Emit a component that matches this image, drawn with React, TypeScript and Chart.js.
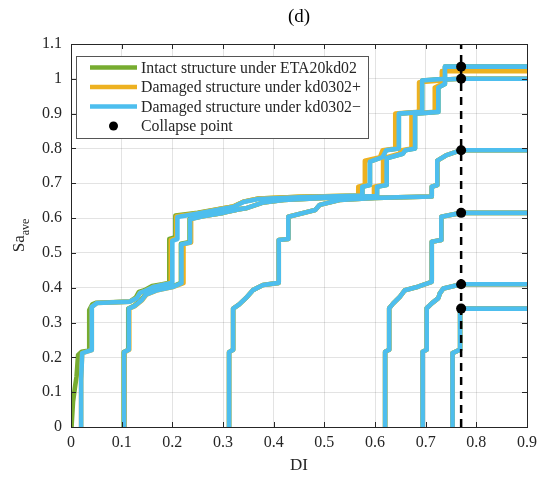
import React, { useEffect, useRef } from "react";
import { Chart, registerables } from "chart.js";

Chart.register(...registerables);

type Pt = [number, number];

// ---------- labels / ticks ----------
const chartTitle = "(d)";
const xAxisTitle = "DI";
const yAxisMain = "Sa";
const yAxisSub = "ave";
const seriesNames = [
  "Intact structure under ETA20kd02",
  "Damaged structure under kd0302+",
  "Damaged structure under kd0302\u2212",
  "Collapse point",
];
const seriesColors = ["#77AC30", "#EDB120", "#4DBEEE"];
const xTicks = [0, 0.1, 0.2, 0.3, 0.4, 0.5, 0.6, 0.7, 0.8, 0.9];
const yTicks = [0, 0.1, 0.2, 0.3, 0.4, 0.5, 0.6, 0.7, 0.8, 0.9, 1.0, 1.1];

// ---------- collapse points ----------
const collapseLimitDI = 0.77;
const collapseDI = [0.77, 0.77, 0.77, 0.77, 0.77, 0.77];
const collapseSa = [1.035, 1.0, 0.795, 0.615, 0.41, 0.34];

// ---------- IDA curves (DI, Sa) ----------
const intactRec1: Pt[] = [
  [0.001, 0], [0.004, 0.073], [0.008, 0.116], [0.011, 0.145], [0.014, 0.207], [0.021, 0.216],
  [0.036, 0.22], [0.036, 0.336], [0.042, 0.352], [0.05, 0.357], [0.116, 0.36], [0.128, 0.372],
  [0.134, 0.388], [0.145, 0.393], [0.16, 0.405], [0.18, 0.41], [0.194, 0.414], [0.194, 0.54],
  [0.206, 0.545], [0.206, 0.607], [0.25, 0.615], [0.3, 0.628], [0.32, 0.633], [0.34, 0.647],
  [0.37, 0.656], [0.45, 0.661], [0.575, 0.665], [0.575, 0.69], [0.59, 0.695], [0.59, 0.762],
  [0.615, 0.775], [0.622, 0.795], [0.647, 0.8], [0.647, 0.9], [0.693, 0.905], [0.693, 0.995],
  [0.738, 1.0], [0.738, 1.035], [0.9, 1.035],
];
const intactRec2: Pt[] = [
  [0.104, 0], [0.104, 0.215], [0.113, 0.222], [0.113, 0.34], [0.125, 0.349], [0.139, 0.366],
  [0.147, 0.381], [0.169, 0.394], [0.2, 0.403], [0.217, 0.414], [0.217, 0.526], [0.234, 0.531],
  [0.234, 0.598], [0.26, 0.605], [0.3, 0.615], [0.33, 0.625], [0.345, 0.628], [0.38, 0.645],
  [0.42, 0.652], [0.5, 0.658], [0.604, 0.663], [0.604, 0.69], [0.623, 0.695], [0.623, 0.772],
  [0.655, 0.785], [0.66, 0.795], [0.679, 0.8], [0.679, 0.9], [0.725, 0.905], [0.725, 0.975],
  [0.738, 0.985], [0.738, 0.998], [0.77, 1.0], [0.9, 1.0],
];
const plusRec1: Pt[] = [
  [0.02, 0], [0.02, 0.135], [0.022, 0.212], [0.041, 0.221], [0.041, 0.345], [0.051, 0.356],
  [0.116, 0.36], [0.13, 0.37], [0.136, 0.385], [0.145, 0.39], [0.162, 0.402], [0.18, 0.408],
  [0.197, 0.414], [0.197, 0.537], [0.208, 0.542], [0.208, 0.605], [0.25, 0.614], [0.3, 0.628],
  [0.32, 0.633], [0.34, 0.647], [0.37, 0.656], [0.45, 0.661], [0.567, 0.665], [0.567, 0.69],
  [0.58, 0.695], [0.58, 0.765], [0.61, 0.775], [0.615, 0.795], [0.64, 0.8], [0.64, 0.9],
  [0.687, 0.905], [0.687, 0.99], [0.732, 0.995], [0.732, 1.022], [0.9, 1.022],
];
const plusRec2: Pt[] = [
  [0.106, 0], [0.106, 0.215], [0.115, 0.222], [0.115, 0.34], [0.127, 0.348], [0.141, 0.365],
  [0.149, 0.38], [0.171, 0.393], [0.201, 0.402], [0.222, 0.413], [0.222, 0.525], [0.237, 0.53],
  [0.237, 0.597], [0.26, 0.605], [0.3, 0.615], [0.33, 0.625], [0.345, 0.628], [0.38, 0.645],
  [0.42, 0.652], [0.5, 0.658], [0.598, 0.663], [0.598, 0.69], [0.616, 0.695], [0.616, 0.772],
  [0.648, 0.785], [0.653, 0.795], [0.672, 0.8], [0.672, 0.9], [0.718, 0.905], [0.718, 0.975],
  [0.732, 0.985], [0.732, 0.998], [0.77, 1.0], [0.9, 1.0],
];
const minusRec1: Pt[] = [
  [0.02, 0], [0.02, 0.135], [0.022, 0.212], [0.041, 0.221], [0.041, 0.345], [0.051, 0.356],
  [0.116, 0.36], [0.13, 0.37], [0.136, 0.385], [0.145, 0.39], [0.162, 0.402], [0.18, 0.408],
  [0.2, 0.414], [0.2, 0.535], [0.21, 0.54], [0.21, 0.603], [0.25, 0.613], [0.3, 0.627],
  [0.32, 0.632], [0.34, 0.646], [0.37, 0.655], [0.45, 0.66], [0.575, 0.665], [0.575, 0.69],
  [0.59, 0.695], [0.59, 0.762], [0.615, 0.775], [0.622, 0.795], [0.647, 0.8], [0.647, 0.9],
  [0.693, 0.905], [0.693, 0.995], [0.738, 1.0], [0.738, 1.035], [0.9, 1.035],
];
const minusRec2: Pt[] = [
  [0.105, 0], [0.105, 0.215], [0.114, 0.222], [0.114, 0.34], [0.126, 0.348], [0.14, 0.365],
  [0.148, 0.38], [0.17, 0.393], [0.2, 0.402], [0.218, 0.413], [0.218, 0.525], [0.235, 0.53],
  [0.235, 0.597], [0.26, 0.605], [0.3, 0.615], [0.33, 0.625], [0.345, 0.628], [0.38, 0.645],
  [0.42, 0.652], [0.5, 0.658], [0.604, 0.663], [0.604, 0.69], [0.623, 0.695], [0.623, 0.772],
  [0.655, 0.785], [0.66, 0.795], [0.679, 0.8], [0.679, 0.9], [0.725, 0.905], [0.725, 0.975],
  [0.738, 0.985], [0.738, 0.998], [0.77, 1.0], [0.9, 1.0],
];
const record3: Pt[] = [
  [0.312, 0], [0.312, 0.215], [0.32, 0.222], [0.32, 0.34], [0.332, 0.352], [0.345, 0.37],
  [0.359, 0.393], [0.379, 0.408], [0.41, 0.414], [0.41, 0.537], [0.429, 0.54], [0.429, 0.604],
  [0.482, 0.623], [0.491, 0.638], [0.53, 0.652], [0.6, 0.658], [0.712, 0.662], [0.712, 0.69],
  [0.723, 0.695], [0.723, 0.765], [0.74, 0.78], [0.77, 0.795], [0.9, 0.795],
];
const record4: Pt[] = [
  [0.62, 0], [0.62, 0.216], [0.628, 0.222], [0.628, 0.341], [0.636, 0.355], [0.649, 0.374],
  [0.659, 0.393], [0.685, 0.403], [0.712, 0.417], [0.712, 0.532], [0.731, 0.537], [0.731, 0.604],
  [0.77, 0.615], [0.9, 0.615],
];
const record5: Pt[] = [
  [0.694, 0], [0.694, 0.216], [0.702, 0.222], [0.702, 0.341], [0.712, 0.355], [0.725, 0.37],
  [0.728, 0.384], [0.735, 0.398], [0.77, 0.41], [0.9, 0.41],
];
const record6: Pt[] = [
  [0.753, 0], [0.753, 0.212], [0.768, 0.222], [0.768, 0.34], [0.77, 0.34], [0.9, 0.34],
];

const intactCurves = [intactRec1, intactRec2, record3, record4, record5, record6];
const plusCurves = [plusRec1, plusRec2, record3, record4, record5, record6];
const minusCurves = [minusRec1, minusRec2, record3, record4, record5, record6];

const AXIS = "#262626";
const FONT = "'Liberation Serif', 'Times New Roman', serif";
const fmt = (v: number) => String(Number(v.toFixed(1)));

const toXY = (c: Pt[]) => c.map(([x, y]) => ({ x, y }));

const decorPlugin = {
  id: "decor",
  afterDatasetsDraw(chart: any) {
    const { ctx, chartArea: a, scales } = chart;
    const xs = scales.x;
    const ys = scales.y;
    ctx.save();
    ctx.strokeStyle = AXIS;
    ctx.lineWidth = 1;
    ctx.strokeRect(Math.round(a.left) + 0.5, Math.round(a.top) + 0.5, Math.round(a.right - a.left), Math.round(a.bottom - a.top));
    const tl = 5;
    ctx.beginPath();
    xTicks.forEach((v) => {
      const px = Math.round(xs.getPixelForValue(v)) + 0.5;
      ctx.moveTo(px, a.bottom);
      ctx.lineTo(px, a.bottom - tl);
      ctx.moveTo(px, a.top);
      ctx.lineTo(px, a.top + tl);
    });
    yTicks.forEach((v) => {
      const py = Math.round(ys.getPixelForValue(v)) + 0.5;
      ctx.moveTo(a.left, py);
      ctx.lineTo(a.left + tl, py);
      ctx.moveTo(a.right, py);
      ctx.lineTo(a.right - tl, py);
    });
    ctx.stroke();
    ctx.restore();
  },
  afterDraw(chart: any) {
    const { ctx, chartArea: a } = chart;
    const cx = (a.left + a.right) / 2;
    ctx.save();
    ctx.fillStyle = "#000";
    ctx.textAlign = "center";
    ctx.textBaseline = "middle";
    ctx.font = `19px ${FONT}`;
    ctx.fillText(chartTitle, cx, 17);
    ctx.fillStyle = AXIS;
    ctx.font = `17px ${FONT}`;
    ctx.fillText(xAxisTitle, cx, 466);

    ctx.save();
    ctx.translate(24, (a.top + a.bottom) / 2);
    ctx.rotate(-Math.PI / 2);
    ctx.textAlign = "left";
    ctx.textBaseline = "alphabetic";
    ctx.font = `17px ${FONT}`;
    const w1 = ctx.measureText(yAxisMain).width;
    ctx.font = `12px ${FONT}`;
    const w2 = ctx.measureText(yAxisSub).width;
    const start = -(w1 + w2) / 2;
    ctx.font = `17px ${FONT}`;
    ctx.fillText(yAxisMain, start, 0);
    ctx.font = `12px ${FONT}`;
    ctx.fillText(yAxisSub, start + w1, 5);
    ctx.restore();

    const bx = 76, by = 56, bw = 292, bh = 82;
    ctx.fillStyle = "#fff";
    ctx.fillRect(bx, by, bw, bh);
    ctx.strokeStyle = "#555";
    ctx.lineWidth = 1;
    ctx.strokeRect(bx + 0.5, by + 0.5, bw, bh);
    const rowY = [67.5, 87, 106.5, 126];
    ctx.font = `15.8px ${FONT}`;
    ctx.textAlign = "left";
    ctx.textBaseline = "middle";
    for (let i = 0; i < 4; i++) {
      if (i < 3) {
        ctx.strokeStyle = seriesColors[i];
        ctx.lineWidth = 4.5;
        ctx.beginPath();
        ctx.moveTo(90, rowY[i]);
        ctx.lineTo(137, rowY[i]);
        ctx.stroke();
      } else {
        ctx.fillStyle = "#000";
        ctx.beginPath();
        ctx.arc(113.5, rowY[i], 4.5, 0, Math.PI * 2);
        ctx.fill();
      }
      ctx.fillStyle = AXIS;
      ctx.fillText(seriesNames[i], 141, rowY[i] + 1);
    }
    ctx.restore();
  },
};

export default function App() {
  const ref = useRef<HTMLCanvasElement>(null);
  useEffect(() => {
    document.body.style.margin = "0";
    const canvas = ref.current;
    if (!canvas) return;

    const datasets: any[] = [];
    datasets.push({
      label: seriesNames[3],
      data: collapseDI.map((x, i) => ({ x, y: collapseSa[i] })),
      showLine: false,
      pointRadius: 5,
      pointBackgroundColor: "#000",
      pointBorderColor: "#000",
      pointBorderWidth: 0,
      order: 0,
    });
    datasets.push({
      label: "limit",
      data: [
        { x: collapseLimitDI, y: yTicks[0] },
        { x: collapseLimitDI, y: yTicks[yTicks.length - 1] },
      ],
      borderColor: "#000",
      borderWidth: 2.5,
      borderDash: [8, 6],
      pointRadius: 0,
      order: 1,
    });
    const groups = [
      { curves: minusCurves, color: seriesColors[2], order: 2 },
      { curves: plusCurves, color: seriesColors[1], order: 3 },
      { curves: intactCurves, color: seriesColors[0], order: 4 },
    ];
    groups.forEach((g) => {
      g.curves.forEach((c) => {
        datasets.push({
          data: toXY(c),
          borderColor: g.color,
          backgroundColor: g.color,
          borderWidth: 4.6,
          pointRadius: 0,
          tension: 0,
          fill: false,
          borderJoinStyle: "round",
          borderCapStyle: "butt",
          order: g.order,
        });
      });
    });

    const chart = new Chart(canvas, {
      type: "line",
      data: { datasets },
      options: {
        responsive: false,
        animation: false,
        devicePixelRatio: 1,
        layout: { padding: { top: 44, right: 25, left: 0, bottom: 0 } },
        plugins: { legend: { display: false }, tooltip: { enabled: false }, title: { display: false } },
        scales: {
          x: {
            type: "linear",
            min: 0,
            max: 0.9,
            afterBuildTicks: (s: any) => {
              s.ticks = xTicks.map((v) => ({ value: v }));
            },
            afterFit: (s: any) => {
              s.height = 53;
            },
            grid: { color: "rgba(38,38,38,0.13)", drawTicks: false, lineWidth: 1 },
            border: { display: false },
            ticks: {
              autoSkip: false,
              maxRotation: 0,
              padding: 6,
              color: AXIS,
              font: { family: FONT, size: 16 },
              callback: (v: any) => fmt(Number(v)),
            },
          },
          y: {
            type: "linear",
            min: 0,
            max: 1.1,
            afterBuildTicks: (s: any) => {
              s.ticks = yTicks.map((v) => ({ value: v }));
            },
            afterFit: (s: any) => {
              s.width = 71;
            },
            grid: { color: "rgba(38,38,38,0.13)", drawTicks: false, lineWidth: 1 },
            border: { display: false },
            ticks: {
              autoSkip: false,
              padding: 9,
              color: AXIS,
              font: { family: FONT, size: 16 },
              callback: (v: any) => fmt(Number(v)),
            },
          },
        },
      },
      plugins: [decorPlugin],
    } as any);
    return () => chart.destroy();
  }, []);

  return (
    <div style={{ width: 552, height: 480, position: "relative" }}>
      <canvas ref={ref} width={552} height={480} style={{ display: "block", width: 552, height: 480 }} />
    </div>
  );
}
